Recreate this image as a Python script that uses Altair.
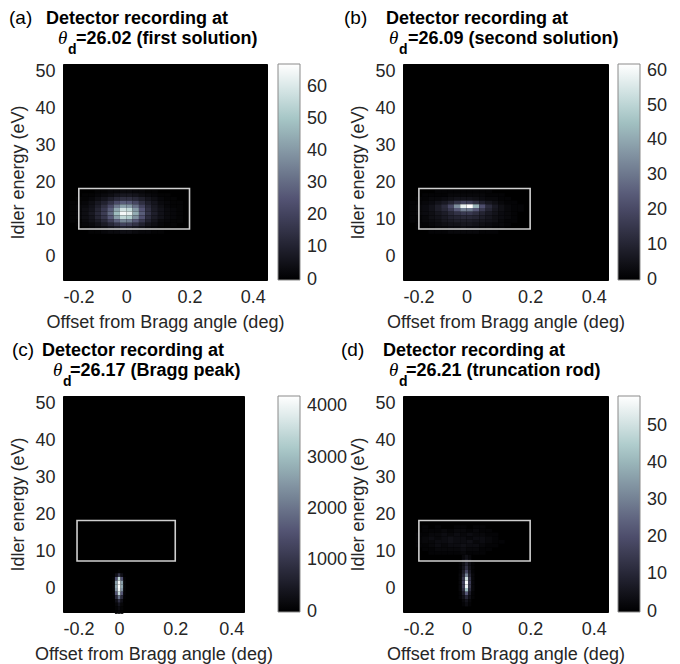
import altair as alt
import pandas as pd

# ---------------- text ----------------
panel_tags = ["(a)", "(b)", "(c)", "(d)"]
title_line1 = "Detector recording at"
title_angle = ["=26.02 (first solution)", "=26.09 (second solution)",
               "=26.17 (Bragg peak)", "=26.21 (truncation rod)"]
theta_sym = "θ"
theta_sub = "d"
x_label = "Offset from Bragg angle (deg)"
y_label = "Idler energy (eV)"

# ---------------- axes ----------------
x_tick_values = [-0.2, 0, 0.2, 0.4]
y_tick_values = [0, 10, 20, 30, 40, 50]
x_range = [-0.2, 0.445]
y_range = [-6.5, 52.0]

# integration window drawn on every panel
box_x = [-0.15, 0.2]
box_y = [7.3, 18.3]

# colour bars
cbar_max = [67, 62, 4200, 58]
cbar_ticks = [
    [0, 10, 20, 30, 40, 50, 60],
    [0, 10, 20, 30, 40, 50, 60],
    [0, 1000, 2000, 3000, 4000],
    [0, 10, 20, 30, 40, 50],
]

# ---------------- detector counts ----------------
wide_x_edges = [-0.18, -0.16, -0.14, -0.12, -0.10, -0.08, -0.06, -0.04, -0.02, 0.0,
                0.02, 0.04, 0.06, 0.08, 0.10, 0.12, 0.14, 0.16, 0.18]
wide_y_edges = [18, 17, 16, 15, 14, 13, 12, 11, 10, 9, 8, 7, 6]

a_counts = [
    [0, 0, 0, 0, 1, 1, 2, 2, 3, 3, 2, 2, 1, 1, 0, 0, 0, 0],
    [0, 0, 1, 1, 2, 3, 4, 6, 7, 7, 6, 4, 3, 2, 1, 1, 0, 0],
    [0, 1, 1, 2, 4, 6, 9, 12, 14, 14, 12, 9, 6, 4, 2, 1, 1, 0],
    [1, 1, 2, 4, 7, 10, 15, 22, 27, 26, 21, 14, 9, 6, 3, 2, 1, 1],
    [1, 2, 3, 5, 9, 14, 22, 33, 42, 40, 31, 20, 12, 7, 4, 2, 1, 1],
    [1, 2, 4, 6, 11, 17, 27, 43, 58, 55, 40, 25, 14, 8, 5, 3, 2, 1],
    [1, 2, 4, 7, 12, 18, 30, 48, 65, 62, 44, 27, 15, 9, 5, 3, 2, 1],
    [1, 2, 4, 6, 11, 16, 26, 41, 55, 52, 38, 24, 13, 8, 5, 3, 2, 1],
    [1, 1, 3, 5, 8, 12, 19, 28, 36, 34, 26, 17, 10, 6, 3, 2, 1, 1],
    [0, 1, 2, 3, 5, 8, 12, 16, 20, 19, 15, 10, 6, 4, 2, 1, 1, 0],
    [0, 0, 1, 2, 3, 4, 6, 8, 10, 9, 7, 5, 3, 2, 1, 1, 0, 0],
    [0, 0, 0, 1, 1, 2, 3, 3, 4, 4, 3, 2, 2, 1, 1, 0, 0, 0],
]

b_counts = [
    [0, 0, 0, 0, 1, 1, 1, 1, 1, 1, 1, 1, 1, 0, 0, 0, 0, 0],
    [0, 0, 1, 1, 1, 1, 2, 2, 2, 2, 2, 2, 1, 1, 1, 0, 0, 0],
    [0, 1, 1, 2, 2, 3, 4, 5, 5, 5, 4, 3, 2, 2, 1, 1, 0, 0],
    [1, 1, 2, 3, 5, 7, 10, 14, 18, 17, 13, 9, 6, 4, 2, 1, 1, 0],
    [1, 2, 3, 5, 8, 12, 20, 35, 58, 62, 42, 22, 12, 7, 4, 2, 1, 1],
    [1, 2, 3, 5, 8, 11, 16, 24, 32, 31, 24, 16, 10, 6, 4, 2, 1, 1],
    [1, 2, 3, 4, 6, 8, 11, 14, 16, 16, 13, 10, 7, 5, 3, 2, 1, 0],
    [1, 1, 2, 4, 5, 7, 9, 10, 11, 11, 10, 8, 6, 4, 3, 2, 1, 0],
    [1, 1, 2, 3, 4, 6, 7, 8, 8, 8, 7, 6, 5, 4, 2, 1, 1, 0],
    [0, 1, 1, 2, 3, 4, 5, 5, 6, 6, 5, 4, 3, 2, 2, 1, 0, 0],
    [0, 1, 1, 1, 2, 2, 3, 3, 4, 3, 3, 2, 2, 1, 1, 0, 0, 0],
    [0, 0, 0, 1, 1, 1, 2, 2, 2, 2, 2, 1, 1, 1, 0, 0, 0, 0],
]

narrow_x_edges = [-0.025, -0.015, -0.005, 0.005, 0.015, 0.025]

c_y_edges = [5, 4, 3, 2, 1, 0, -1, -2, -3, -4, -5, -6, -7]
c_counts = [
    [0, 10, 80, 10, 0],
    [20, 300, 1000, 300, 20],
    [60, 1500, 3400, 1500, 60],
    [100, 2600, 4150, 2600, 100],
    [100, 2700, 4200, 2700, 100],
    [90, 2400, 4050, 2400, 90],
    [60, 1600, 3500, 1600, 60],
    [30, 800, 2000, 800, 30],
    [10, 300, 900, 300, 10],
    [0, 120, 400, 120, 0],
    [0, 60, 200, 60, 0],
    [0, 30, 100, 30, 0],
]

d_y_edges = [9, 8, 7, 6, 5, 4, 3, 2, 1, 0, -1, -2, -3, -4, -5]
d_counts = [
    [0, 2, 4, 2, 0],
    [0, 3, 6, 3, 0],
    [1, 4, 9, 4, 1],
    [1, 5, 12, 5, 1],
    [1, 7, 18, 7, 1],
    [2, 10, 30, 10, 2],
    [2, 14, 50, 14, 2],
    [2, 16, 57, 16, 2],
    [2, 15, 55, 15, 2],
    [2, 12, 42, 12, 2],
    [1, 7, 22, 7, 1],
    [1, 4, 10, 4, 1],
    [0, 2, 5, 2, 0],
    [0, 1, 3, 1, 0],
]
d_noise_y_edges = [17, 16, 15, 14, 13, 12, 11, 10, 9]
d_noise_counts = [
    [0, 0, 1, 0, 1, 0, 0, 1, 1, 0, 1, 1, 0, 0, 0, 0, 0, 0],
    [0, 0, 1, 1, 1, 2, 1, 2, 2, 1, 2, 1, 1, 0, 0, 0, 0, 0],
    [0, 1, 1, 2, 2, 3, 2, 3, 2, 3, 2, 2, 1, 1, 0, 0, 0, 0],
    [0, 1, 2, 3, 2, 3, 4, 3, 3, 2, 3, 3, 2, 1, 0, 0, 0, 0],
    [0, 1, 2, 2, 3, 3, 4, 3, 3, 4, 2, 3, 2, 1, 1, 0, 0, 0],
    [0, 1, 1, 2, 3, 2, 3, 3, 4, 3, 3, 2, 1, 1, 0, 0, 0, 0],
    [0, 0, 1, 1, 2, 2, 2, 2, 3, 2, 2, 1, 1, 0, 0, 0, 0, 0],
    [0, 0, 0, 1, 1, 1, 1, 1, 2, 1, 1, 1, 0, 0, 0, 0, 0, 0],
]

# MATLAB "bone" colour map anchors (fractions of the colour-bar maximum)
bone_stops = [-0.002, 0.365, 0.746, 1.0]
bone_colors = ["#000000", "#515171", "#a6c6c6", "#ffffff"]


def grid_frame(x_edges, y_edges, counts):
    rows = []
    for i, row in enumerate(counts):
        for j, v in enumerate(row):
            if v > 0:
                rows.append({"x": x_edges[j], "x2": x_edges[j + 1],
                             "y": y_edges[i + 1], "y2": y_edges[i], "v": v})
    return pd.DataFrame(rows)


frames = [
    grid_frame(wide_x_edges, wide_y_edges, a_counts),
    grid_frame(wide_x_edges, wide_y_edges, b_counts),
    grid_frame(narrow_x_edges, c_y_edges, c_counts),
    pd.concat([grid_frame(wide_x_edges, d_noise_y_edges, d_noise_counts),
               grid_frame(narrow_x_edges, d_y_edges, d_counts)], ignore_index=True),
]

SANS = "Liberation Sans"
SERIF = "Liberation Serif"
widths = [204, 205, 181, 205]
HEIGHT = 216

# title layout per panel: (tag_x, head_x, theta_x, sub_x, rest_x)
title_pos = [
    (-54, -17, -5, 5, 13),
    (-59, -17, -14, -4, 5),
    (-51, -21, -10, 0, 7),
    (-62, -20, -14, -4, 3),
]

x_label_expr = ("datum.value < 0 ? '-' + format(-datum.value, '.1f') : "
                "(datum.value == 0 ? '0' : format(datum.value, '.1f'))")


def text_layer(s, x, y, font, size, weight="bold", style="normal"):
    return alt.Chart(pd.DataFrame({"t": [s]})).mark_text(
        align="left", baseline="alphabetic", font=font, fontSize=size,
        fontWeight=weight, fontStyle=style, color="black"
    ).encode(text="t:N", x=alt.value(x), y=alt.value(y))


panels = []
for k in range(4):
    m = cbar_max[k]
    color_scale = alt.Scale(domain=[s * m for s in bone_stops], range=bone_colors,
                            interpolate="rgb", clamp=True)
    heat = alt.Chart(frames[k]).mark_rect().encode(
        x=alt.X("x:Q", scale=alt.Scale(domain=x_range, nice=False, zero=False),
                axis=alt.Axis(values=x_tick_values, labelExpr=x_label_expr, title=x_label)),
        x2="x2:Q",
        y=alt.Y("y:Q", scale=alt.Scale(domain=y_range, nice=False, zero=False),
                axis=alt.Axis(values=y_tick_values, title=y_label)),
        y2="y2:Q",
        color=alt.Color("v:Q", scale=color_scale, legend=alt.Legend(
            orient="none", legendX=215, legendY=0, direction="vertical",
            gradientLength=HEIGHT, gradientThickness=22, values=cbar_ticks[k],
            format="d", title=None, labelFont=SANS, labelFontSize=18,
            labelColor="#262626", labelBaseline="middle", labelOffset=7,
            labelOverlap=False,
            gradientStrokeColor="#8a8a8a", gradientStrokeWidth=1)),
    )
    box = alt.Chart(pd.DataFrame({"x": [box_x[0]], "x2": [box_x[1]],
                                  "y": [box_y[0]], "y2": [box_y[1]]})).mark_rect(
        fillOpacity=0, stroke="#cfcfcf", strokeWidth=1.6
    ).encode(x="x:Q", x2="x2:Q", y="y:Q", y2="y2:Q")

    tx, hx, thx, sx, rx = title_pos[k]
    texts = [
        text_layer(panel_tags[k], tx, -40, SANS, 19, weight="normal"),
        text_layer(title_line1, hx, -40, SANS, 18),
        text_layer(theta_sym, thx, -20, SERIF, 19, weight="normal", style="italic"),
        text_layer(theta_sub, sx, -10, SANS, 14),
        text_layer(title_angle[k], rx, -20, SANS, 18),
    ]
    panel = alt.layer(heat, box, *texts).resolve_scale(color="independent").properties(
        width=widths[k], height=HEIGHT)
    panels.append(panel)

chart = alt.concat(
    *panels, columns=2, spacing={"row": 116, "column": 136}, bounds="flush"
).resolve_scale(color="independent").properties(
    padding={"left": 0, "top": 0, "right": 2, "bottom": 2}
).configure_view(fill="black", stroke="black").configure_axis(
    grid=False, domain=False, ticks=False,
    labelFont=SANS, labelFontSize=18, labelColor="#262626", labelPadding=8,
    titleFont=SANS, titleFontSize=18, titleFontWeight="normal", titleColor="#262626",
    titlePadding=7,
)

chart.save("out.html", embed_options={"renderer": "svg", "actions": False})
